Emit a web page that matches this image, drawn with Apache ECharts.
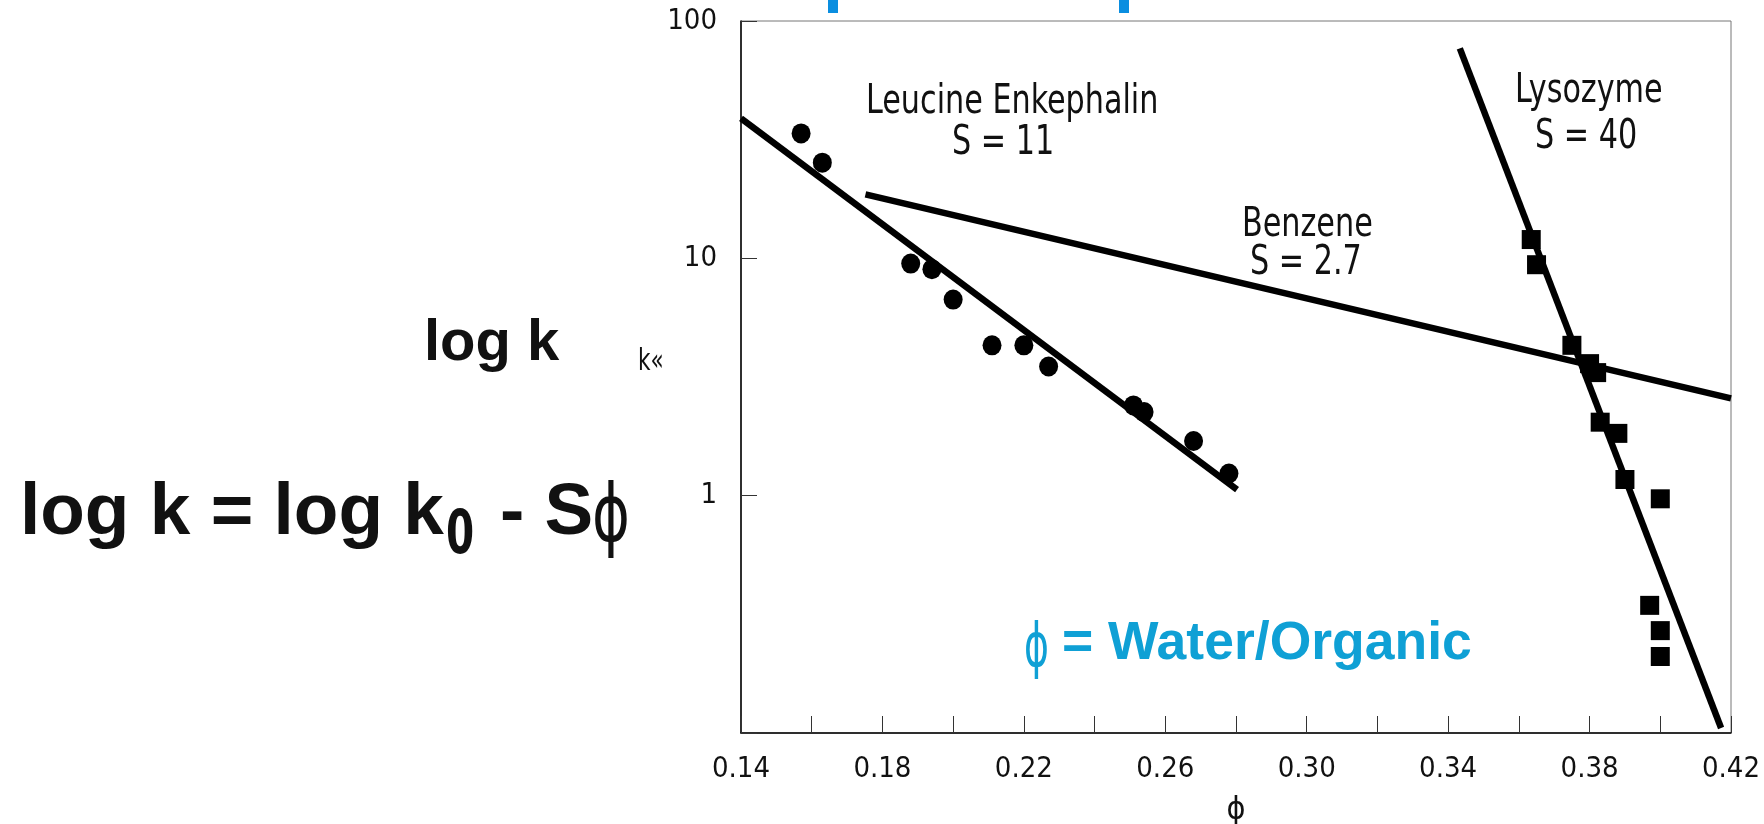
<!DOCTYPE html>
<html>
<head>
<meta charset="utf-8">
<script src="https://cdn.jsdelivr.net/npm/echarts@6.0.0/dist/echarts.min.js"></script>
<style>
  html, body { margin: 0; padding: 0; background: #fff; }
  #chart { width: 1764px; height: 824px; }
</style>
</head>
<body>
<div id="chart"></div>
<script>
// measured points, phi vs k
const leuPhi = [0.157, 0.163, 0.188, 0.194, 0.200, 0.211, 0.220, 0.227, 0.251, 0.254, 0.268, 0.278];
const leuK = [33.6, 25.3, 9.5, 9.0, 6.7, 4.3, 4.3, 3.5, 2.4, 2.25, 1.7, 1.24];
const lysPhi = [0.3635, 0.365, 0.375, 0.380, 0.382, 0.383, 0.388, 0.390, 0.400, 0.397, 0.400, 0.400];
const lysK = [12.0, 9.4, 4.3, 3.6, 3.3, 2.04, 1.83, 1.17, 0.97, 0.345, 0.27, 0.21];

// fitted lines (two ends each)
const leuFitPhi = [0.14, 0.2803];
const leuFitK = [38.9, 1.06];
const benFitPhi = [0.1752, 0.42];
const benFitK = [18.6, 2.57];
const lysFitPhi = [0.3433, 0.4172];
const lysFitK = [76.7, 0.105];

const yTicks = ['1', '10', '100'];

const narrow = "'Liberation Sans Narrow', 'DejaVu Sans Condensed', sans-serif";
const bold = "'Liberation Sans', Arial, sans-serif";

const pairs = (xs, ys) => xs.map((x, i) => [x, ys[i]]);

const fitLine = (name, xs, ys) => ({
    name: name,
    type: 'line',
    data: pairs(xs, ys),
    showSymbol: false,
    silent: true,
    lineStyle: { color: '#000', width: 6.5 },
    z: 3
});

// plain text at a pixel spot, squeezed a bit to look like the condensed face
const txt = (text, x, y, font, color, sx) => ({
    type: 'text',
    x: x,
    y: y,
    scaleX: sx || 1,
    style: {
        text: text,
        font: font,
        fill: color || '#111',
        textAlign: 'left',
        textVerticalAlign: 'middle',
        align: 'left',
        verticalAlign: 'middle'
    }
});

let mychart = echarts.init(document.getElementById('chart'));

let option = {
    animation: false,
    backgroundColor: '#fff',
    grid: {
        left: 741,
        right: 33,
        top: 21,
        bottom: 91,
        outerBoundsMode: 'none',
        containLabel: false,
        show: true,
        borderColor: '#777',
        borderWidth: 1
    },
    xAxis: {
        type: 'value',
        min: 0.14,
        max: 0.42,
        interval: 0.02,
        name: 'ϕ',
        nameLocation: 'middle',
        nameGap: 62,
        nameTextStyle: { fontFamily: narrow, fontSize: 32, color: '#111' },
        axisLine: { lineStyle: { color: '#000', width: 1.5 } },
        axisTick: { inside: true, length: 17, lineStyle: { color: '#333', width: 1 } },
        splitLine: { show: false },
        axisLabel: {
            margin: 22,
            fontFamily: narrow,
            fontSize: 29,
            color: '#111',
            formatter: function (v) {
                let step = Math.round((v - 0.14) / 0.02);
                return step % 2 === 0 ? v.toFixed(2) : '';
            }
        }
    },
    yAxis: {
        type: 'log',
        logBase: 10,
        min: 0.1,
        max: 100,
        axisLine: { show: true, lineStyle: { color: '#000', width: 1.5 } },
        axisTick: { inside: true, length: 16, lineStyle: { color: '#333', width: 1 } },
        splitLine: { show: false },
        axisLabel: {
            margin: 24,
            fontFamily: narrow,
            fontSize: 29,
            color: '#111',
            formatter: function (v) {
                let s = String(Math.round(v));
                return v >= 1 && yTicks.indexOf(s) >= 0 ? s : '';
            }
        }
    },
    series: [
        fitLine('Leucine Enkephalin fit', leuFitPhi, leuFitK),
        fitLine('Benzene fit', benFitPhi, benFitK),
        fitLine('Lysozyme fit', lysFitPhi, lysFitK),
        {
            name: 'Leucine Enkephalin',
            type: 'scatter',
            data: pairs(leuPhi, leuK),
            symbol: 'circle',
            symbolSize: [19, 20],
            itemStyle: { color: '#000', opacity: 1 },
            z: 4
        },
        {
            name: 'Lysozyme',
            type: 'scatter',
            data: pairs(lysPhi, lysK),
            symbol: 'rect',
            symbolSize: 19,
            itemStyle: { color: '#000', opacity: 1 },
            z: 4
        }
    ],
    graphic: [
        // slide leftovers at the very top
        { type: 'rect', shape: { x: 828, y: 0, width: 10, height: 13 }, style: { fill: '#0a8ee0' } },
        { type: 'rect', shape: { x: 1119, y: 0, width: 10, height: 13 }, style: { fill: '#0a8ee0' } },

        txt('Leucine Enkephalin', 866, 103, '40px ' + narrow, null, 0.84),
        txt('S = 11', 952, 144, '40px ' + narrow, null, 0.84),
        txt('Benzene', 1242, 226, '40px ' + narrow, null, 0.84),
        txt('S = 2.7', 1250, 264, '40px ' + narrow, null, 0.84),
        txt('Lysozyme', 1515, 92, '40px ' + narrow, null, 0.84),
        txt('S = 40', 1535, 138, '40px ' + narrow, null, 0.84),

        txt('log k', 424, 344, 'bold 58px ' + bold),
        txt('k«', 638, 362, '30px ' + narrow, null, 0.8),

        txt('log k = log k', 20, 514, 'bold 73px ' + bold),
        txt('0', 446, 537, 'bold 60px ' + narrow, null, 0.75),
        txt('- S', 500, 514, 'bold 73px ' + bold),
        txt('ϕ', 592, 520, '80px ' + narrow, null, 0.8),

        txt('ϕ', 1024, 650, '60px ' + narrow, '#0fa0d5', 0.7),
        txt('= Water/Organic', 1062, 644, 'bold 53.5px ' + bold, '#0fa0d5')
    ]
};

mychart.setOption(option);
</script>
</body>
</html>
